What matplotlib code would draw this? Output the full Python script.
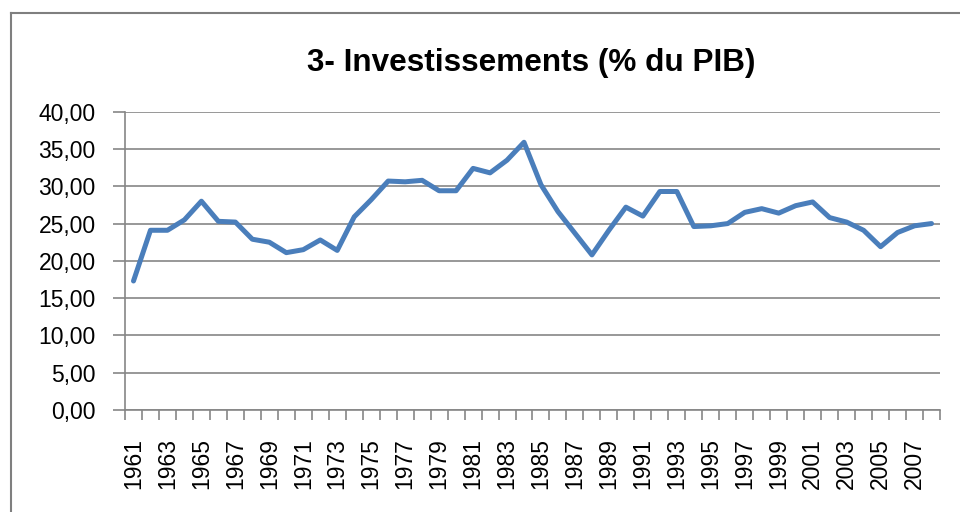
import matplotlib
matplotlib.use("Agg")
import matplotlib.pyplot as plt
from matplotlib.lines import Line2D
import numpy as np

# données
years = list(range(1961, 2009))
invest = [17.3, 24.1, 24.1, 25.5, 28.0, 25.3, 25.2, 22.9, 22.5, 21.1,
          21.5, 22.8, 21.4, 25.9, 28.2, 30.7, 30.6, 30.8, 29.4, 29.4,
          32.4, 31.8, 33.5, 35.9, 30.2, 26.6, 23.7, 20.8, 24.1, 27.2,
          26.0, 29.3, 29.3, 24.6, 24.7, 25.0, 26.5, 27.0, 26.4, 27.4,
          27.9, 25.8, 25.2, 24.1, 21.9, 23.8, 24.7, 25.0]
y_ticks = [0, 5, 10, 15, 20, 25, 30, 35, 40]
y_labels = ["0,00", "5,00", "10,00", "15,00", "20,00", "25,00", "30,00", "35,00", "40,00"]
x_label_years = years[::2]

plt.rcParams['font.family'] = ['Liberation Sans', 'DejaVu Sans']
grey = '#868686'

fig = plt.figure(figsize=(9.6, 5.12), dpi=100)
ax = fig.add_axes([125 / 960, 1 - 410 / 512, 815 / 960, 298.3 / 512])

ax.plot(years, invest, color='#4A7EBB', linewidth=3.6, solid_joinstyle='round',
        solid_capstyle='round', zorder=3)

ax.set_xlim(1960.5, 2008.5)
ax.set_ylim(0, 40)
ax.set_yticks(y_ticks)
ax.set_yticklabels(y_labels, fontsize=16.5)
ax.yaxis.grid(True, color=grey, linewidth=1.2)
ax.tick_params(axis='y', length=9, width=1.2, color=grey, pad=12)

ax.set_xticks(x_label_years)
ax.set_xticklabels([str(y) for y in x_label_years], rotation=90, fontsize=16.5)
ax.set_xticks(np.arange(1960.5, 2009, 1), minor=True)
ax.tick_params(axis='x', which='major', length=0, pad=20)
ax.tick_params(axis='x', which='minor', length=7, width=1.2, color=grey)

for side in ['top', 'right']:
    ax.spines[side].set_visible(False)
for side in ['left', 'bottom']:
    ax.spines[side].set_color(grey)
    ax.spines[side].set_linewidth(1.2)

fig.text(531.5 / 960, 1 - 63 / 512, "3- Investissements (% du PIB)",
         ha='center', va='center', fontsize=22.7, fontweight='bold')

# cadre du graphique (coupé à droite et en bas)
fig.add_artist(Line2D([10.5 / 960, 10.5 / 960], [0, 1 - 13 / 512],
                      transform=fig.transFigure, color='#7f7f7f', linewidth=1.5))
fig.add_artist(Line2D([10.5 / 960, 1], [1 - 13 / 512, 1 - 13 / 512],
                      transform=fig.transFigure, color='#7f7f7f', linewidth=1.5))

fig.savefig("out.png", dpi=100)
